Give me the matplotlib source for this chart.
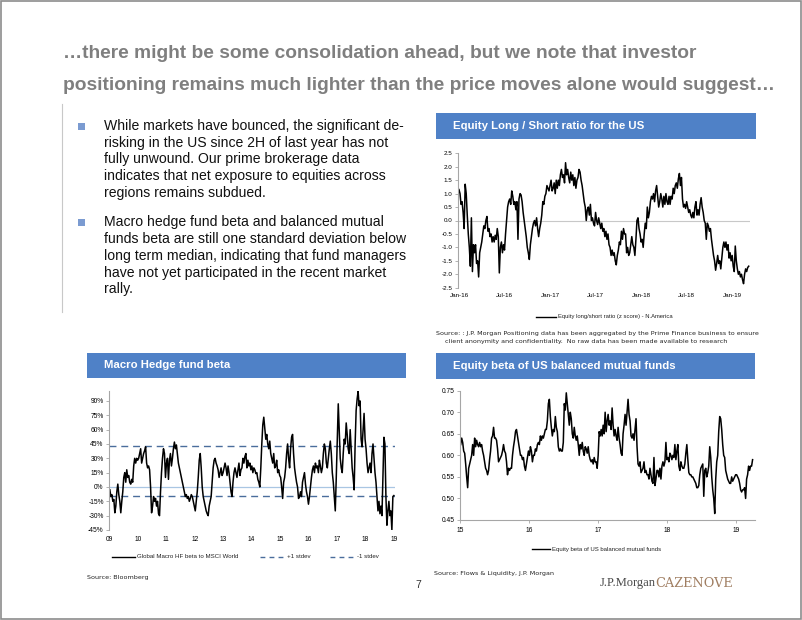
import numpy as np
import matplotlib
matplotlib.use('Agg')
from matplotlib import pyplot as plt
from matplotlib.patches import Rectangle
from matplotlib.lines import Line2D

plt.rcParams['axes.unicode_minus'] = False
plt.rcParams['font.family'] = ['Liberation Sans', 'DejaVu Sans']

W, H = 802, 620

# Equity long/short ratio (z score) - N.America, Jan-16 .. Mar-19
ls_ratio = [
    1.15, 1.0, 0.6, 0.7, 0.3, -0.3, 1.35, 1.0, 0.2, -0.5, -1.0, -1.7, 0.1, -1.9, -0.9, -1.2, -0.9, -1.6,
    -1.5, -2.1, -1.2, -1.0, -0.8, -0.5, -0.2, -0.3, 0.0, 0.15, -0.4, -0.3, -0.6, -0.5, -0.8, -0.6, -0.8,
    -0.55, -0.7, -0.3, -0.6, -1.95, -1.0, -0.8, -1.2, -0.9, -1.1, -0.5, 0.0, 0.5, 0.7, 0.8, 0.6, 1.1, 0.9,
    0.6, 0.7, 0.4, 0.7, -0.7, 0.8, 1.0, 0.95, 0.7, 0.3, 0.0, -0.3, -0.6, -1.0, -1.2, -1.45, -0.9, -0.6,
    -0.3, -0.1, 0.0, -0.2, 0.1, -0.3, -0.6, -0.3, -0.1, 0.2, 0.7, 0.6, 0.9, 1.0, 1.3, 1.2, 1.1, 1.3, 1.5,
    1.1, 1.2, 1.4, 1.0, 1.5, 1.2, 1.5, 1.3, 1.7, 1.9, 1.6, 1.7, 1.4, 2.15, 1.7, 1.9, 1.6, 1.4, 1.8, 1.5,
    1.7, 1.3, 1.6, 1.2, 1.5, 1.6, 1.9, 1.8, 1.5, 1.3, 1.0, 0.7, 0.5, 0.0, 0.4, 0.5, 0.2, 0.6, 0.0, 0.1,
    -0.1, -0.2, 0.3, 0.0, -0.15, 0.1, -0.1, -0.3, -0.1, -0.4, -0.3, -0.6, -0.4, -0.7, -0.5, -0.9, -1.0,
    -1.3, -1.1, -1.3, -1.2, -1.5, -1.65, -1.3, -1.1, -0.8, -0.9, -0.4, -0.7, -0.3, -0.5, -0.5, -1.2, -1.0,
    -1.3, -1.2, -0.9, -0.6, -0.9, -1.0, -1.3, -0.7, 0.0, 0.1, -0.3, -0.5, -0.8, -0.7, -1.0, -0.5, -0.1,
    -0.3, 0.5, 0.1, 0.3, 0.7, 0.9, 0.8, 1.0, 0.7, 1.1, 1.3, 0.9, 0.5, 0.7, 1.0, 0.8, 0.5, 0.9, 0.6, 1.0,
    0.7, 0.6, 0.9, 0.6, 0.9, 0.8, 1.2, 1.0, 1.3, 1.4, 1.2, 1.55, 1.75, 1.3, 1.6, 0.8, 0.5, 0.6, 0.45, 0.7,
    0.5, 0.3, 0.4, 0.2, 0.1, 0.3, 0.1, 0.5, 0.7, 0.2, 0.4, 0.2, 0.6, 0.85, 0.5, 0.3, 0.0, -0.1, -0.7,
    -0.1, -0.2, -0.4, -0.3, -0.7, -1.0, -1.3, -1.5, -1.85, -1.6, -1.3, -1.6, -1.5, -1.8, -1.4, -1.0, -0.8,
    -1.0, -0.8, -1.1, -0.9, -1.4, -1.2, -1.5, -1.3, -1.7, -1.9, -0.95, -1.5, -1.8, -2.0, -1.9, -2.1, -2.0,
    -2.2, -2.35, -2.0, -1.8, -1.9, -1.75, -1.7,
]
ls_start, ls_end = 2016.0, 2019.18
ls_ticks = [2016.0, 2016.5, 2017.0, 2017.5, 2018.0, 2018.5, 2019.0]
ls_tick_labels = ['Jan-16', 'Jul-16', 'Jan-17', 'Jul-17', 'Jan-18', 'Jul-18', 'Jan-19']

# Global Macro HF beta to MSCI World (%), 2009 .. 2019
hf_beta = [
    -3, -10, -8, -15, -13, -27, -20, -5, 3, -8, -15, -27, -15, -5, 10, 15, 5, 18, 10, 12, 5, 3, 8, 5, 22,
    30, 25, 30, 28, 30, 35, 40, 25, 30, 35, 38, 42, 25, 20, 22, 18, 0, -27, -20, -10, -15, -12, -20, -15,
    -28, -30, -5, 15, 30, 40, 35, 10, 25, 30, 8, 28, 35, 22, 30, 40, 47, 40, 44, 35, 25, 20, 15, 10, 5, 0,
    -5, -10, -8, -12, -10, -15, -12, -8, -10, -15, -20, -25, -15, -5, 10, 28, 35, 20, 0, -10, -15, -20,
    -25, -28, -30, -20, -15, -10, 5, 20, 28, 30, 25, 22, 18, 10, 15, 20, 12, 15, 20, 25, 20, 12, 22, 15, 5,
    -5, -10, 5, 15, 20, 15, 10, 18, 25, 12, 18, 20, 30, 25, 32, 35, 20, 28, 22, 25, 18, 22, 15, 20, 18, 14,
    15, 8, 5, 0, 20, 45, 65, 73, 62, 50, 55, 45, 40, 48, 35, 30, 25, 35, 20, 22, 28, 15, 18, 12, 10, 0,
    -12, 5, 10, 20, 35, 45, 30, 20, 40, 52, 55, 35, 20, 12, 5, 0, -12, -10, -5, -10, 5, 10, 15, 3, -5, -10,
    -18, -10, 0, 10, 18, 22, 15, 25, 20, 22, 15, 28, 22, 15, 20, 35, 45, 40, 25, 20, 30, 40, 48, 35, 15, 5,
    -10, -25, 10, 50, 87, 60, 30, 20, 15, 35, 50, 45, 67, 55, 40, 35, 60, 40, 20, 10, -3, 45, 80, 92, 100,
    85, 90, 50, 42, 60, 77, 50, 40, 25, 15, 20, 25, 15, 35, 45, 30, 15, 5, -10, -25, -15, -28, -20, -30,
    10, 52, 45, -10, -40, -25, -15, -30, -25, -45, -10, -9,
]
hf_start, hf_end = 2009.02, 2019.0
hf_plus_stdev = 43
hf_minus_stdev = -9
hf_years = list(range(2009, 2020))

# Equity beta of US balanced mutual funds, 2015 .. Mar-19
mf_beta = [
    0.625, 0.64, 0.63, 0.61, 0.605, 0.58, 0.55, 0.525, 0.57, 0.58, 0.59, 0.60, 0.625, 0.60, 0.64, 0.62,
    0.635, 0.625, 0.62, 0.63, 0.62, 0.625, 0.61, 0.60, 0.585, 0.57, 0.565, 0.555, 0.565, 0.59, 0.61, 0.64,
    0.645, 0.665, 0.64, 0.64, 0.635, 0.615, 0.585, 0.59, 0.595, 0.60, 0.61, 0.625, 0.61, 0.605, 0.585,
    0.555, 0.57, 0.565, 0.57, 0.57, 0.60, 0.62, 0.635, 0.655, 0.66, 0.645, 0.63, 0.615, 0.60, 0.60, 0.59,
    0.595, 0.575, 0.565, 0.58, 0.595, 0.61, 0.60, 0.62, 0.61, 0.585, 0.60, 0.60, 0.615, 0.61, 0.625, 0.63,
    0.625, 0.645, 0.635, 0.645, 0.64, 0.65, 0.66, 0.66, 0.68, 0.72, 0.73, 0.69, 0.665, 0.645, 0.66, 0.655,
    0.69, 0.665, 0.655, 0.62, 0.61, 0.615, 0.61, 0.61, 0.63, 0.72, 0.705, 0.745, 0.72, 0.695, 0.67, 0.70,
    0.685, 0.65, 0.64, 0.665, 0.645, 0.635, 0.645, 0.625, 0.60, 0.625, 0.615, 0.63, 0.61, 0.60, 0.62,
    0.615, 0.605, 0.62, 0.60, 0.59, 0.585, 0.59, 0.58, 0.595, 0.585, 0.585, 0.57, 0.60, 0.655, 0.645, 0.66,
    0.645, 0.67, 0.65, 0.70, 0.655, 0.68, 0.695, 0.67, 0.68, 0.66, 0.71, 0.67, 0.645, 0.66, 0.645, 0.635,
    0.665, 0.64, 0.625, 0.605, 0.60, 0.65, 0.67, 0.695, 0.67, 0.70, 0.73, 0.695, 0.68, 0.645, 0.64, 0.65,
    0.635, 0.66, 0.685, 0.62, 0.58, 0.575, 0.585, 0.56, 0.565, 0.57, 0.585, 0.56, 0.565, 0.555, 0.555,
    0.545, 0.57, 0.555, 0.54, 0.535, 0.595, 0.53, 0.545, 0.565, 0.565, 0.55, 0.57, 0.545, 0.575, 0.585,
    0.575, 0.585, 0.63, 0.59, 0.595, 0.585, 0.605, 0.60, 0.59, 0.60, 0.595, 0.625, 0.59, 0.61, 0.625, 0.575,
    0.565, 0.585, 0.575, 0.57, 0.57, 0.58, 0.605, 0.625, 0.59, 0.56, 0.555, 0.555, 0.55, 0.55, 0.545, 0.54,
    0.535, 0.525, 0.525, 0.53, 0.555, 0.57, 0.575, 0.58, 0.505, 0.565, 0.57, 0.55, 0.56, 0.575, 0.62, 0.595,
    0.55, 0.52, 0.50, 0.465, 0.545, 0.585, 0.60, 0.655, 0.69, 0.685, 0.66, 0.625, 0.60, 0.595, 0.565, 0.555,
    0.545, 0.54, 0.535, 0.535, 0.55, 0.54, 0.545, 0.55, 0.555, 0.555, 0.55, 0.545, 0.535, 0.52, 0.515, 0.52,
    0.52, 0.525, 0.50, 0.545, 0.555, 0.575, 0.565, 0.575, 0.575, 0.59,
]
mf_start, mf_end = 2015.01, 2019.24
mf_years = [2015, 2016, 2017, 2018, 2019]

title_lines = ['\u2026there might be some consolidation ahead, but we note that investor',
               'positioning remains much lighter than the price moves alone would suggest\u2026']
bullets = [
    ['While markets have bounced, the significant de-',
     'risking in the US since 2H of last year has not',
     'fully unwound. Our prime brokerage data',
     'indicates that net exposure to equities across',
     'regions remains subdued.'],
    ['Macro hedge fund beta and balanced mutual',
     'funds beta are still one standard deviation below',
     'long term median, indicating that fund managers',
     'have not yet participated in the recent market',
     'rally.'],
]

HEAD_BLUE = '#4F81C7'
AXIS_GREY = '#A6A6A6'
DASH_BLUE = '#4A6D9C'
ZERO_BLUE = '#A9C6E3'


def fx(x):
    return x / W


def fy(y):
    return 1 - y / H


def make_axes(fig, left, top, right, bottom):
    ax = fig.add_axes([fx(left), fy(bottom), (right - left) / W, (bottom - top) / H])
    for s in ('top', 'right', 'bottom'):
        ax.spines[s].set_visible(False)
    ax.spines['left'].set_color(AXIS_GREY)
    ax.spines['left'].set_linewidth(0.8)
    ax.tick_params(axis='y', length=2, width=0.6, color=AXIS_GREY, pad=2)
    ax.tick_params(axis='x', length=0, pad=4)
    ax.patch.set_alpha(0)
    return ax


def header(fig, left, top, right, bottom, text):
    fig.add_artist(Rectangle((fx(left), fy(bottom)), (right - left) / W, (bottom - top) / H,
                             transform=fig.transFigure, facecolor=HEAD_BLUE, edgecolor='none'))
    fig.text(fx(left + 17), fy((top + bottom) / 2), text, color='white', fontsize=8.2,
             fontweight='bold', va='center', ha='left')


def legend_item(fig, x0, x1, y, label, color='black', ls='-', lw=1.0, size=4.3):
    fig.add_artist(Line2D([fx(x0), fx(x1)], [fy(y), fy(y)], transform=fig.transFigure,
                          color=color, linestyle=ls, linewidth=lw))
    fig.text(fx(x1 + 2), fy(y), label, fontsize=size, va='center', ha='left', color='#222222')


fig = plt.figure(figsize=(8.02, 6.2), dpi=100)

# slide frame
fig.add_artist(Rectangle((0.001, 0.001), 0.998, 0.997, transform=fig.transFigure,
                         facecolor='none', edgecolor='#8C8C8C', linewidth=1.2))
fig.add_artist(Line2D([fx(62), fx(62)], [fy(104), fy(312)], transform=fig.transFigure,
                      color='#C8C8C8', linewidth=0.8))

# title
for i, line in enumerate(title_lines):
    fig.text(fx(63), fy(54 + i * 32), line, fontsize=13.75, fontweight='bold', color='#7F7F7F',
             va='center', ha='left')

# bullets
y = 126
for para in bullets:
    fig.add_artist(Rectangle((fx(78), fy(y + 3.5)), 7 / W, 7 / H, transform=fig.transFigure,
                             facecolor='#7B9BD1', edgecolor='none'))
    for line in para:
        fig.text(fx(104), fy(y), line, fontsize=10.1, color='#111111', va='center', ha='left')
        y += 16.7
    y += 13

# ---- chart 1: equity long/short ratio
header(fig, 436, 113, 756, 139, 'Equity Long / Short ratio for the US')
ax1 = make_axes(fig, 457.7, 153.3, 750, 287.7)
x1 = np.linspace(ls_start, ls_end, len(ls_ratio))
ax1.axhline(0, color='#C8C8C8', linewidth=0.8)
ax1.plot(x1, ls_ratio, color='black', linewidth=1.1)
ax1.set_xlim(2015.986, 2019.194)
ax1.set_ylim(-2.5, 2.5)
ax1.set_yticks(np.arange(-2.5, 2.51, 0.5))
ax1.set_yticklabels(['{:.1f}'.format(v) for v in np.arange(-2.5, 2.51, 0.5)], fontsize=4.5)
ax1.set_xticks(ls_ticks)
ax1.set_xticklabels(ls_tick_labels, fontsize=4.5)
legend_item(fig, 536, 556, 316.7, 'Equity long/short ratio (z score) - N.America', size=4.2)
fig.text(fx(436), fy(333), 'Source: : J.P. Morgan Positioning data has been aggregated by the Prime Finance '
         'business to ensure', fontsize=4.6, family='DejaVu Sans', color='#222222', va='center')
fig.text(fx(445), fy(341.5), 'client anonymity and confidentiality.  No raw data has been made available to '
         'research', fontsize=4.6, family='DejaVu Sans', color='#222222', va='center')

# ---- chart 2: macro hedge fund beta
header(fig, 87, 353, 406, 378, 'Macro Hedge fund beta')
ax2 = make_axes(fig, 109.3, 391.4, 395, 530)
x2 = np.linspace(hf_start, hf_end, len(hf_beta))
ax2.axhline(0, color=ZERO_BLUE, linewidth=0.9)
ax2.axhline(hf_plus_stdev, color=DASH_BLUE, linewidth=1.0, linestyle=(0, (5, 3.5)))
ax2.axhline(hf_minus_stdev, color=DASH_BLUE, linewidth=1.0, linestyle=(0, (5, 3.5)))
ax2.plot(x2, hf_beta, color='black', linewidth=1.1)
ax2.set_xlim(2009.0, 2019.04)
ax2.set_ylim(-45, 100)
ax2.set_yticks(range(-45, 91, 15))
ax2.set_yticklabels(['{}%'.format(v) for v in range(-45, 91, 15)], fontsize=4.8)
ax2.set_xticks(hf_years)
ax2.set_xticklabels(['{:02d}'.format(v % 100) for v in hf_years], fontsize=4.8)
legend_item(fig, 112, 135, 556.7, 'Global Macro HF beta to MSCI World', size=4.4)
legend_item(fig, 260, 285, 556.7, '+1 stdev', color=DASH_BLUE, ls=(0, (3.5, 3)), size=4.4)
legend_item(fig, 330, 355, 556.7, '-1 stdev', color=DASH_BLUE, ls=(0, (3.5, 3)), size=4.4)
fig.text(fx(87), fy(578), 'Source: Bloomberg', fontsize=4.6, family='DejaVu Sans', color='#222222',
         va='center')

# ---- chart 3: balanced mutual funds beta
header(fig, 436, 353, 755, 379, 'Equity beta of US balanced mutual funds')
ax3 = make_axes(fig, 460, 390.7, 755, 520)
ax3.spines['bottom'].set_visible(True)
ax3.spines['bottom'].set_color(AXIS_GREY)
ax3.spines['bottom'].set_linewidth(0.8)
ax3.tick_params(axis='x', length=2, width=0.6, color=AXIS_GREY, pad=3)
x3 = np.linspace(mf_start, mf_end, len(mf_beta))
ax3.plot(x3, mf_beta, color='black', linewidth=1.1)
ax3.set_xlim(2015.0, 2019.275)
ax3.set_ylim(0.45, 0.75)
ax3.set_yticks(np.arange(0.45, 0.751, 0.05))
ax3.set_yticklabels(['{:.2f}'.format(v) for v in np.arange(0.45, 0.751, 0.05)], fontsize=4.8)
ax3.set_xticks(mf_years)
ax3.set_xticklabels(['{:02d}'.format(v % 100) for v in mf_years], fontsize=4.8)
legend_item(fig, 532, 550, 549, 'Equity beta of US balanced mutual funds', size=4.3)
fig.text(fx(434), fy(573), 'Source: Flows & Liquidity, J.P. Morgan', fontsize=4.6, family='DejaVu Sans',
         color='#222222', va='center')

# footer
fig.text(fx(418), fy(585), '7', fontsize=7.5, color='#333333', va='center', ha='center')
fig.text(fx(600), fy(583), 'J.P.Morgan', fontsize=9, family='Liberation Serif', color='#4A4A4A',
         va='center', ha='left')
fig.text(fx(655), fy(583.5), 'CAZENOVE', fontsize=9.3, family='DejaVu Serif', color='#A07E62',
         va='center', ha='left')

fig.savefig('out.png', dpi=100)
